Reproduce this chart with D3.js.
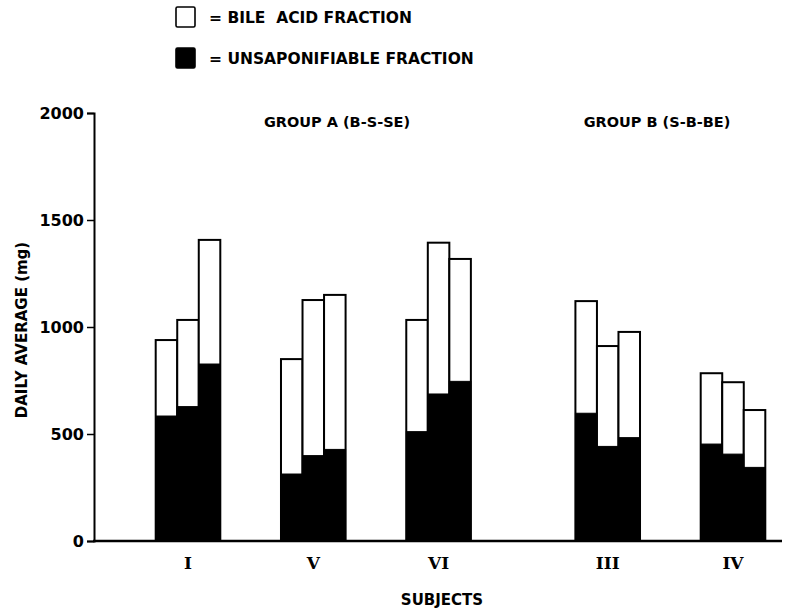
<!DOCTYPE html>
<html>
<head>
<meta charset="utf-8">
<script src="https://cdn.jsdelivr.net/npm/d3@7"></script>
<style>
  body { margin: 0; background: #fff; }
  svg { display: block; }
  text { font-family: "DejaVu Sans", sans-serif; font-weight: bold; fill: #000; }
  .roman { font-family: "DejaVu Serif", serif; }
  .leg text { white-space: pre; }
</style>
</head>
<body>
<svg id="chart" width="801" height="610"></svg>
<script>
// subjects in the order they appear, and which group they belong to
var subjects = ["I", "V", "VI", "III", "IV"];
var subjectGroup = ["A", "A", "A", "B", "B"];
var groupLabels = ["GROUP A (B-S-SE)", "GROUP B (S-B-BE)"];

// three diet periods per subject (mg/day)
var unsaponifiable = [
  [584, 628, 827],
  [313, 399, 428],
  [511, 687, 746],
  [597, 442, 483],
  [453, 406, 344]
];
var bileAcid = [
  [355, 405, 580],
  [537, 727, 722],
  [522, 707, 572],
  [524, 469, 494],
  [331, 336, 268]
];

var yMajorTicks = [0, 500, 1000, 1500, 2000];
var legendLabels = ["= BILE  ACID FRACTION", "= UNSAPONIFIABLE FRACTION"];

var svg = d3.select("#chart");

var groupGap = 0.35;
var slot = function(i) { return i + (subjectGroup[i] === "B" ? groupGap : 0); };

var x = d3.scaleLinear().domain([0, subjects.length - 1 + groupGap]).range([188, 733]);
var inner = d3.scaleBand().domain([0, 1, 2]).range([-32.3, 32.3]).padding(0);
var y = d3.scaleLinear().domain([0, 2000]).range([541, 113]);

// bars
var bars = [];
subjects.forEach(function(s, i) {
  unsaponifiable[i].forEach(function(u, j) {
    bars.push({ subject: i, period: j, unsap: u, bile: bileAcid[i][j] });
  });
});

var g = svg.append("g");
var barX = function(d) { return x(slot(d.subject)) + inner(d.period); };

g.selectAll(".bar")
  .data(bars)
  .enter()
  .append("rect")
  .attr("class", "bar")
  .attr("x", barX)
  .attr("width", inner.bandwidth())
  .attr("y", function(d) { return y(d.unsap + d.bile); })
  .attr("height", function(d) { return y(0) - y(d.unsap + d.bile); })
  .attr("fill", "#fff")
  .attr("stroke", "#000")
  .attr("stroke-width", 2);

g.selectAll(".unsap")
  .data(bars)
  .enter()
  .append("rect")
  .attr("class", "unsap")
  .attr("x", barX)
  .attr("width", inner.bandwidth())
  .attr("y", function(d) { return y(d.unsap); })
  .attr("height", function(d) { return y(0) - y(d.unsap); })
  .attr("fill", "#000")
  .attr("stroke", "#000")
  .attr("stroke-width", 1);

// y axis: minor ticks every 100, labelled ticks every 500
var minorAxis = d3.axisLeft(y).tickValues(d3.range(0, 2001, 100)).tickSize(3).tickFormat("");
var majorAxis = d3.axisLeft(y).tickValues(yMajorTicks).tickSize(7).tickPadding(3).tickFormat(d3.format("d"));

var ga = svg.append("g").attr("transform", "translate(94,0)");
ga.call(minorAxis);
ga.call(majorAxis);
ga.selectAll("path.domain").attr("stroke-width", 2);
ga.selectAll("line").attr("stroke", "#000").attr("stroke-width", 1.5);
ga.selectAll("text").style("font-size", "16px").style("font-family", "DejaVu Sans").style("font-weight", "bold");

// baseline
svg.append("line")
  .attr("x1", 93).attr("x2", 782)
  .attr("y1", y(0)).attr("y2", y(0))
  .attr("stroke", "#000").attr("stroke-width", 2.5);

// subject labels
svg.selectAll(".roman")
  .data(subjects)
  .enter()
  .append("text")
  .attr("class", "roman")
  .attr("x", function(d, i) { return x(slot(i)); })
  .attr("y", 569)
  .attr("text-anchor", "middle")
  .style("font-size", "17px")
  .text(function(d) { return d; });

svg.append("text")
  .attr("x", 442).attr("y", 605)
  .attr("text-anchor", "middle")
  .style("font-size", "15px")
  .text("SUBJECTS");

svg.append("text")
  .attr("transform", "translate(27,330) rotate(-90)")
  .attr("text-anchor", "middle")
  .style("font-size", "15px")
  .text("DAILY AVERAGE (mg)");

// group labels
svg.selectAll(".grp")
  .data(groupLabels)
  .enter()
  .append("text")
  .attr("class", "grp")
  .attr("x", function(d, i) { return i === 0 ? 337 : 657; })
  .attr("y", 127)
  .attr("text-anchor", "middle")
  .style("font-size", "14.5px")
  .text(function(d) { return d; });

// legend
var leg = svg.selectAll(".leg")
  .data(legendLabels)
  .enter()
  .append("g")
  .attr("class", "leg")
  .attr("transform", function(d, i) { return "translate(176," + (7 + i * 41) + ")"; });

leg.append("rect")
  .attr("width", 19).attr("height", 20)
  .attr("rx", 1.5)
  .attr("fill", function(d, i) { return i === 0 ? "#fff" : "#000"; })
  .attr("stroke", "#000")
  .attr("stroke-width", 1.6);

leg.append("text")
  .attr("x", 33).attr("y", 16)
  .style("font-size", "15.5px")
  .text(function(d) { return d; });
</script>
</body>
</html>
